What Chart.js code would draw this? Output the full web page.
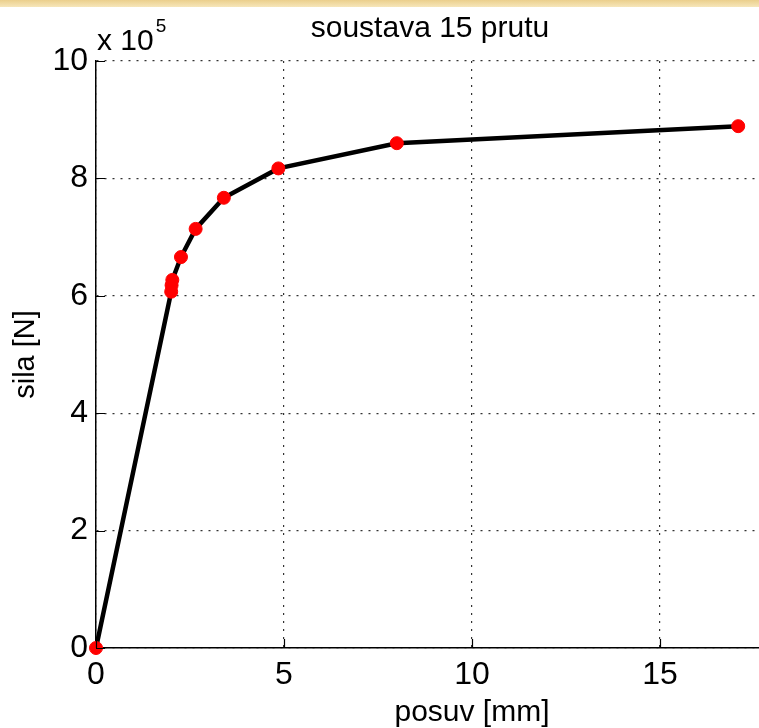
<!DOCTYPE html>
<html>
<head>
<meta charset="utf-8">
<script src="https://cdn.jsdelivr.net/npm/chart.js@4/dist/chart.umd.min.js"></script>
<style>
  html, body { margin: 0; padding: 0; background: #ffffff; overflow: hidden; width: 759px; height: 728px; }
  #strip { position: absolute; left: 0; top: 0; width: 759px; height: 7px; z-index: 2;
    background: linear-gradient(to bottom, #ebcf8c, #f6e6ba); }
  #wrap { position: absolute; left: 0; top: 0; }
</style>
</head>
<body>
<div id="strip"></div>
<div id="wrap"><canvas id="c" width="860" height="728"></canvas></div>
<script>
// ---- data ----
const posuv = [0, 2.00, 2.01, 2.03, 2.26, 2.65, 3.40, 4.85, 8.00, 17.08];          // mm
const sila  = [0, 607000, 618000, 627000, 666000, 714000, 767000, 817000, 860000, 889000]; // N
const xTicks = [0, 5, 10, 15, 20];
const yTicks = [0, 200000, 400000, 600000, 800000, 1000000];
const titleText = 'soustava 15 prutu';
const xLabel = 'posuv [mm]';
const yLabel = 'sila [N]';
const expLabel = ['x 10', '5'];

const FONT = '"Liberation Sans", Arial, Helvetica, sans-serif';
const points = posuv.map((x, i) => ({ x: x, y: sila[i] }));

const inwardTicks = {
  id: 'inwardTicks',
  afterDraw(chart) {
    const { ctx, chartArea: a, scales: { x, y } } = chart;
    ctx.save();
    ctx.strokeStyle = '#000';
    ctx.lineWidth = 1.2;
    ctx.beginPath();
    yTicks.forEach(v => {
      const py = Math.round(y.getPixelForValue(v)) + 0.5;
      ctx.moveTo(a.left, py); ctx.lineTo(a.left + 9, py);
    });
    xTicks.forEach(v => {
      const px = Math.round(x.getPixelForValue(v)) + 0.5;
      ctx.moveTo(px, a.bottom); ctx.lineTo(px, a.bottom - 9);
    });
    ctx.stroke();
    // exponent label "x 10^5"
    ctx.fillStyle = '#000';
    ctx.textBaseline = 'alphabetic';
    ctx.textAlign = 'left';
    ctx.font = '30px ' + FONT;
    const bx = a.left + 1, by = a.top - 11;
    ctx.fillText(expLabel[0], bx, by);
    const w = ctx.measureText(expLabel[0]).width;
    ctx.font = '19px ' + FONT;
    ctx.fillText(expLabel[1], bx + w + 2, by - 18);
    ctx.restore();
  }
};

new Chart(document.getElementById('c'), {
  type: 'line',
  data: {
    datasets: [{
      data: points,
      borderColor: '#000000',
      borderWidth: 4.5,
      pointRadius: 6.5,
      pointHoverRadius: 6.5,
      pointBackgroundColor: '#ff0000',
      pointBorderColor: '#ff0000',
      pointBorderWidth: 1,
      pointStyle: 'circle',
      tension: 0,
      fill: false,
      clip: false
    }]
  },
  options: {
    responsive: false,
    animation: false,
    events: [],
    layout: { padding: 0 },
    plugins: {
      legend: { display: false },
      tooltip: { enabled: false },
      title: {
        display: true,
        text: titleText,
        color: '#000',
        font: { family: FONT, size: 30, weight: 'normal' },
        padding: { top: 11, bottom: 14 }
      }
    },
    scales: {
      x: {
        type: 'linear',
        min: 0, max: 20,
        afterBuildTicks(s) { s.ticks = xTicks.map(v => ({ value: v })); },
        afterFit(s) { s.height = 80; s.paddingLeft = 0; s.paddingRight = 12; },
        ticks: {
          color: '#000',
          font: { family: FONT, size: 32 },
          padding: 8,
          maxRotation: 0,
          callback: v => String(v)
        },
        grid: { color: 'rgba(0,0,0,0.8)', lineWidth: 1.2, drawTicks: false },
        border: { display: true, color: '#000', width: 1.5, dash: [2, 6] },
        title: {
          display: true, text: xLabel, color: '#000',
          font: { family: FONT, size: 30 },
          padding: { top: 0, bottom: -3 }
        }
      },
      y: {
        type: 'linear',
        min: 0, max: 1000000,
        afterBuildTicks(s) { s.ticks = yTicks.map(v => ({ value: v })); },
        afterFit(s) { s.width = 96; s.paddingTop = 0; s.paddingBottom = 0; },
        ticks: {
          color: '#000',
          font: { family: FONT, size: 32 },
          padding: 8,
          callback: v => String(v / 100000)
        },
        grid: { color: 'rgba(0,0,0,0.8)', lineWidth: 1.2, drawTicks: false },
        border: { display: true, color: '#000', width: 1.5, dash: [2, 6] },
        title: {
          display: true, text: yLabel, color: '#000',
          font: { family: FONT, size: 29 },
          padding: { top: 9, bottom: 0 }
        }
      }
    }
  },
  plugins: [inwardTicks]
});
</script>
</body>
</html>
